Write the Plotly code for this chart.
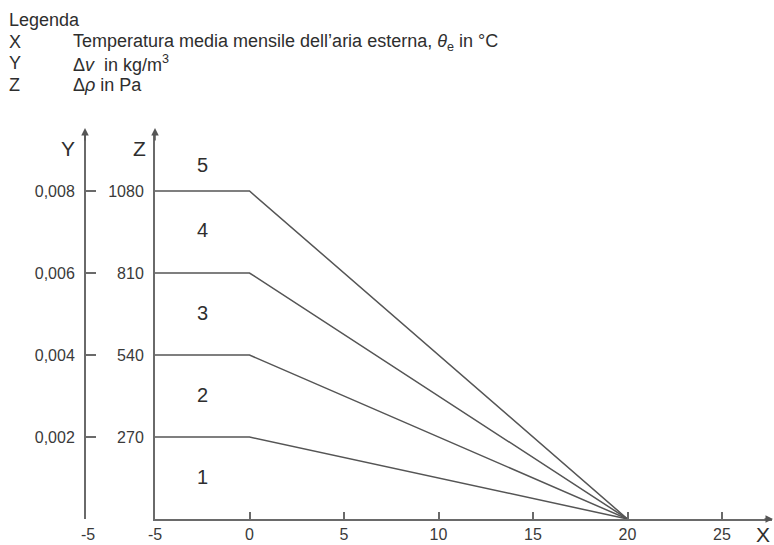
import plotly.graph_objects as go

# ---- data ----
x_break = [-5, 0, 20]                 # temperature breakpoints (°C)
z_levels = [270, 540, 810, 1080]      # Δp (Pa) plateau levels
y_levels = [0.002, 0.004, 0.006, 0.008]  # Δv (kg/m3) corresponding
y_ticklabels = ["0,002", "0,004", "0,006", "0,008"]
x_ticks = [-5, 0, 5, 10, 15, 20, 25]
region_labels = ["1", "2", "3", "4", "5"]
region_y = [138, 408, 678, 952, 1166]
region_x = -2.5

W, H = 774, 545
FONT = "Liberation Sans, Arial, sans-serif"
TXT = "#2e2e2e"
TICK = "#3a3a3a"
AX = "#6a6a6a"
LN = "#555555"

def px(x):
    return x / W

def py(y):
    return 1 - y / H

x0_px, x1_px = 155, 772
y0_px, y1_px = 519, 133
x_min = -5
x_per_px = 18.9
x_max = x_min + (x1_px - x0_px) / x_per_px
z_max = (y0_px - y1_px) / 82 * 270
y_max = z_max / 1080 * 0.008

fig = go.Figure()
for z in z_levels:
    fig.add_trace(go.Scatter(
        x=x_break, y=[z, z, 0], mode="lines",
        line=dict(color=LN, width=1.5), showlegend=False, hoverinfo="skip"))

# dummy trace for secondary axis
fig.add_trace(go.Scatter(x=[None], y=[None], yaxis="y2", showlegend=False))

fig.update_layout(
    width=W, height=H,
    margin=dict(l=0, r=0, t=0, b=0, autoexpand=False),
    paper_bgcolor="white", plot_bgcolor="white",
    font=dict(family=FONT, color=TXT, size=12),
    xaxis=dict(
        domain=[px(x0_px), px(x1_px)], range=[x_min, x_max],
        tickvals=x_ticks, ticktext=[str(v) for v in x_ticks],
        ticks="inside", ticklen=7, tickwidth=1.5, tickcolor=AX,
        showline=True, linecolor=AX, linewidth=2,
        showgrid=False, zeroline=False, automargin=False,
        tickfont=dict(size=16, color=TICK),
    ),
    yaxis=dict(
        domain=[py(y0_px), py(y1_px)], range=[0, z_max],
        tickvals=z_levels, ticktext=[str(v) for v in z_levels],
        ticks="", showline=True, linecolor=AX, linewidth=2,
        showgrid=False, zeroline=False, ticklabelstandoff=6, automargin=False,
        tickfont=dict(size=16, color=TICK),
    ),
    yaxis2=dict(
        overlaying="y", anchor="free", position=px(85), side="left",
        range=[0, y_max],
        tickvals=[0] + y_levels, ticktext=[""] + y_ticklabels,
        ticks="inside", ticklen=10, tickwidth=1.5, tickcolor=AX,
        showline=True, linecolor=AX, linewidth=2,
        showgrid=False, zeroline=False, ticklabelstandoff=6, automargin=False,
        tickfont=dict(size=16, color=TICK),
    ),
)

ann = []
# legend text
legend_rows = [
    (20, "", "Legenda"),
    (42, "X", "Temperatura media mensile dell’aria esterna, <i>θ</i><sub>e</sub> in °C"),
    (63, "Y", "Δ<i>v</i>  in kg/m<sup>3</sup>"),
    (85, "Z", "Δ<i>ρ</i> in Pa"),
]
LS = 18
for yy, key, txt in legend_rows:
    if key:
        ann.append(dict(x=px(7), y=py(yy), xref="paper", yref="paper", text=key,
                        showarrow=False, xanchor="left", yanchor="middle",
                        font=dict(size=LS, color=TXT)))
        ann.append(dict(x=px(71), y=py(yy), xref="paper", yref="paper", text=txt,
                        showarrow=False, xanchor="left", yanchor="middle",
                        font=dict(size=LS, color=TXT)))
    else:
        ann.append(dict(x=px(7), y=py(yy), xref="paper", yref="paper", text=txt,
                        showarrow=False, xanchor="left", yanchor="middle",
                        font=dict(size=LS, color=TXT)))

def label(xp, yp, text, size, color=TXT):
    return dict(x=px(xp), y=py(yp), xref="paper", yref="paper", text=text,
                showarrow=False, xanchor="center", yanchor="middle",
                font=dict(size=size, color=color))

# axis letters
ann.append(label(68, 148, "Y", 21))
ann.append(label(139, 148, "Z", 21))
ann.append(label(763, 534, "X", 21))
# -5 below the left axis
ann.append(label(88, 534, str(x_ticks[0]), 16, TICK))

# region numbers
for lab, yv in zip(region_labels, region_y):
    ann.append(dict(x=region_x, y=yv, xref="x", yref="y", text=lab,
                    showarrow=False, xanchor="center", yanchor="middle",
                    font=dict(size=20, color=TXT)))

# arrowheads
for xp in (85, 155):
    ann.append(dict(x=px(xp), y=py(128), xref="paper", yref="paper", text="",
                    showarrow=True, ax=0, ay=14, arrowhead=2, arrowsize=1,
                    arrowwidth=1.5, arrowcolor=LN))
ann.append(dict(x=px(773), y=py(y0_px), xref="paper", yref="paper", text="",
                showarrow=True, ax=-10, ay=0, arrowhead=2, arrowsize=1,
                arrowwidth=1.5, arrowcolor=LN))

fig.update_layout(annotations=ann)
fig.write_html(
    "out.html",
    config={"displayModeBar": False},
    post_script="document.body.style.margin='0';document.body.style.overflow='hidden';",
)
